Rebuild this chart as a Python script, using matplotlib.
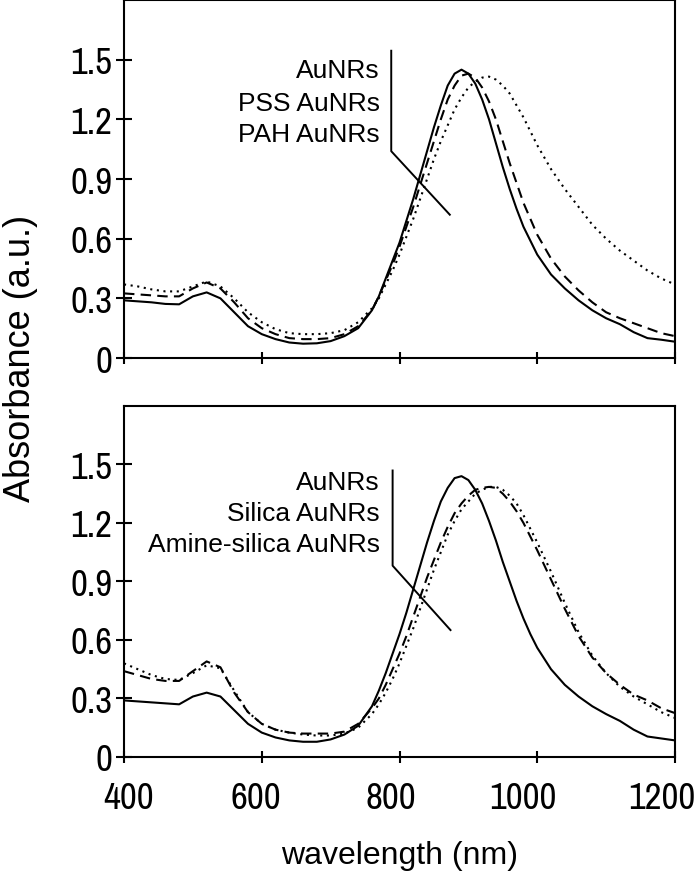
import matplotlib
matplotlib.use("Agg")
import matplotlib.pyplot as plt
from matplotlib import font_manager

## Data (absorbance vs wavelength)

wavelength = [400, 420, 440, 460, 480, 500, 520, 540, 560, 580,
              600, 620, 640, 660, 680, 700, 720, 740,
              760, 770, 780, 790, 800, 810, 820, 830, 840, 850,
              860, 870, 880, 890, 900, 910, 920, 930, 940, 950,
              960, 970, 980, 990, 1000,
              1020, 1040, 1060, 1080, 1100, 1120, 1140, 1160, 1180, 1200]

# top panel
aunrs_top = [0.29, 0.285, 0.28, 0.272, 0.27, 0.31, 0.33, 0.30, 0.23, 0.16,
             0.12, 0.095, 0.078, 0.072, 0.074, 0.085, 0.11, 0.15,
             0.24, 0.31, 0.40, 0.49, 0.58, 0.69, 0.80, 0.92, 1.04, 1.16,
             1.27, 1.37, 1.43, 1.45, 1.43, 1.38, 1.30, 1.20, 1.08, 0.96,
             0.85, 0.75, 0.66, 0.59, 0.52,
             0.42, 0.35, 0.29, 0.24, 0.20, 0.17, 0.13, 0.10, 0.092, 0.082]
pss_aunrs = [0.325, 0.32, 0.315, 0.31, 0.31, 0.35, 0.38, 0.35, 0.28, 0.20,
             0.15, 0.12, 0.10, 0.095, 0.095, 0.10, 0.12, 0.16,
             0.24, 0.31, 0.39, 0.47, 0.56, 0.66, 0.76, 0.87, 0.98, 1.09,
             1.20, 1.30, 1.37, 1.42, 1.43, 1.41, 1.36, 1.29, 1.20, 1.09,
             0.98, 0.88, 0.78, 0.70, 0.62,
             0.50, 0.41, 0.34, 0.28, 0.23, 0.20, 0.175, 0.15, 0.125, 0.11]
pah_aunrs = [0.37, 0.36, 0.345, 0.335, 0.335, 0.36, 0.385, 0.36, 0.30, 0.23,
             0.18, 0.145, 0.125, 0.12, 0.12, 0.125, 0.14, 0.18,
             0.25, 0.30, 0.37, 0.44, 0.52, 0.61, 0.70, 0.80, 0.90, 1.00,
             1.09, 1.17, 1.25, 1.31, 1.36, 1.39, 1.41, 1.415, 1.40, 1.37,
             1.33, 1.27, 1.21, 1.14, 1.07,
             0.95, 0.85, 0.76, 0.67, 0.60, 0.54, 0.49, 0.44, 0.40, 0.37]

# bottom panel
aunrs_bot = [0.29, 0.285, 0.28, 0.275, 0.27, 0.31, 0.33, 0.31, 0.24, 0.17,
             0.125, 0.10, 0.085, 0.078, 0.078, 0.09, 0.115, 0.16,
             0.26, 0.34, 0.43, 0.53, 0.63, 0.74, 0.86, 0.98, 1.10, 1.21,
             1.31, 1.38, 1.43, 1.44, 1.42, 1.37, 1.30, 1.21, 1.11, 1.00,
             0.90, 0.80, 0.71, 0.63, 0.56,
             0.45, 0.37, 0.31, 0.26, 0.22, 0.185, 0.14, 0.105, 0.095, 0.085]
silica_aunrs = [0.44, 0.42, 0.40, 0.39, 0.39, 0.44, 0.49, 0.46, 0.33, 0.23,
                0.17, 0.14, 0.125, 0.12, 0.12, 0.12, 0.13, 0.17,
                0.25, 0.30, 0.37, 0.45, 0.53, 0.62, 0.72, 0.82, 0.92, 1.01,
                1.10, 1.18, 1.25, 1.30, 1.34, 1.37, 1.38, 1.385, 1.38, 1.35,
                1.31, 1.26, 1.20, 1.13, 1.06,
                0.91, 0.76, 0.62, 0.51, 0.43, 0.37, 0.32, 0.29, 0.25, 0.225]
amine_silica_aunrs = [0.48, 0.45, 0.42, 0.40, 0.395, 0.43, 0.47, 0.455, 0.34, 0.23,
                      0.17, 0.14, 0.125, 0.115, 0.11, 0.11, 0.12, 0.15,
                      0.22, 0.27, 0.33, 0.40, 0.48, 0.57, 0.66, 0.76, 0.86, 0.96,
                      1.05, 1.14, 1.21, 1.27, 1.31, 1.35, 1.37, 1.385, 1.385, 1.37,
                      1.34, 1.30, 1.24, 1.17, 1.10,
                      0.95, 0.79, 0.64, 0.52, 0.43, 0.36, 0.31, 0.27, 0.23, 0.20]

labels_top = ["AuNRs", "PSS AuNRs", "PAH AuNRs"]
labels_bot = ["AuNRs", "Silica AuNRs", "Amine-silica AuNRs"]

x_ticks = [400, 600, 800, 1000, 1200]
x_ticklabels = ["400", "600", "800", "1000", "1200"]
y_ticks = [0, 0.3, 0.6, 0.9, 1.2, 1.5]
y_ticklabels = ["0", "0.3", "0.6", "0.9", "1.2", "1.5"]

## Style

# the tick numbers in the original are set in a condensed face
tick_font, tick_size = "Liberation Sans", 22
for f in font_manager.fontManager.ttflist:
    if "Narrow" in f.name or "Condensed" in f.name:
        tick_font, tick_size = f.name, 26.5
        break
text_font = "Liberation Sans"

plt.rcParams["font.family"] = [text_font, "DejaVu Sans"]
plt.rcParams["axes.linewidth"] = 1.5

styles = ["-", (0, (5, 3)), (0, (1, 2.2))]
line_w = 1.5

# small horizontal nudges (points) of the x numbers, as in the original
x_label_shift = [3.6, -4.3, -6.5, -10.0, -9.4]


def style_axis(ax, show_xlabels):
    ax.set_xlim(400, 1200)
    ax.set_ylim(0, 1.8)
    ax.set_xticks(x_ticks)
    ax.set_xticklabels([])
    ax.set_yticks(y_ticks)
    ax.set_yticklabels(y_ticklabels)
    ax.tick_params(axis="x", direction="inout", length=9, width=1.5)
    ax.tick_params(axis="y", direction="inout", length=11, width=1.5, pad=3)
    for lab in ax.get_yticklabels():
        lab.set_fontfamily(tick_font)
        lab.set_fontsize(tick_size)
    if show_xlabels:
        for t, lab, dx in zip(x_ticks, x_ticklabels, x_label_shift):
            ax.annotate(lab, xy=(t, 0), xycoords=("data", "axes fraction"),
                        xytext=(dx, -37), textcoords="offset points",
                        ha="center", va="baseline",
                        fontsize=tick_size, family=tick_font)


def add_legend(ax, labels, y_pos, leader_x, leader_y):
    for lab, y in zip(labels, y_pos):
        ax.text(771, y, lab, ha="right", va="center", fontsize=19, family=text_font)
    ax.plot(leader_x, leader_y, color="black", lw=1.4, solid_capstyle="butt")


fig = plt.figure(figsize=(6.94, 8.78), dpi=100)
ax1 = fig.add_axes([0.1787, 0.5911, 0.7939, 0.4077])
ax2 = fig.add_axes([0.1787, 0.1367, 0.7939, 0.3998])

for series, ls in zip([aunrs_top, pss_aunrs, pah_aunrs], styles):
    ax1.plot(wavelength, series, color="black", linestyle=ls, lw=line_w)
for series, ls in zip([aunrs_bot, silica_aunrs, amine_silica_aunrs], styles):
    ax2.plot(wavelength, series, color="black", linestyle=ls, lw=line_w)

style_axis(ax1, False)
style_axis(ax2, True)

add_legend(ax1, labels_top, [1.45, 1.283, 1.126], [788, 788, 874], [1.55, 1.04, 0.717])
add_legend(ax2, labels_bot, [1.412, 1.253, 1.094], [790, 790, 875], [1.474, 0.981, 0.647])

fig.text(0.575, 0.025, "wavelength (nm)", ha="center", va="center", fontsize=23)
fig.text(0.030, 0.592, "Absorbance (a.u.)", ha="center", va="center", fontsize=26, rotation=90)

fig.savefig("out.png", dpi=100)
